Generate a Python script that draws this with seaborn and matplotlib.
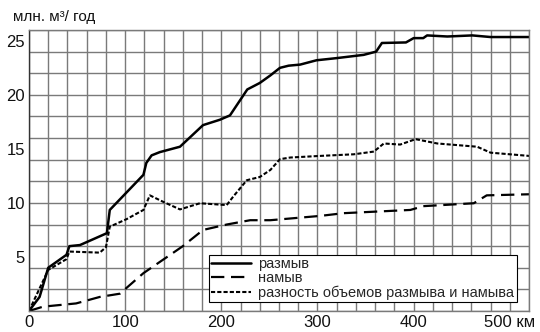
import matplotlib
matplotlib.use("Agg")
import matplotlib.pyplot as plt
import seaborn as sns
import numpy as np
import pandas as pd
from matplotlib.ticker import FixedLocator, FuncFormatter, NullFormatter

sns.set_theme(style="white")
plt.rcParams['font.family'] = ['Liberation Sans', 'DejaVu Sans']

# размыв (erosion)
erosion_km = [0, 11, 20, 39, 42, 53, 81, 84, 119, 122, 127.5, 136, 157, 181, 198.6, 209, 219.5, 227, 240, 251,
              261, 270, 282, 299, 320, 348, 361, 367, 392, 400, 410, 414, 435, 461, 480, 520]
erosion_val = [0, 1.3, 4.0, 5.2, 6.0, 6.1, 7.2, 9.35, 12.6, 13.7, 14.4, 14.7, 15.2, 17.2, 17.7, 18.1, 19.5, 20.5, 21.1, 21.8,
               22.5, 22.7, 22.8, 23.2, 23.4, 23.7, 24.0, 24.8, 24.85, 25.25, 25.25, 25.5, 25.4, 25.5, 25.35, 25.35]

# намыв (deposition)
depos_km = [0, 14.6, 49, 73.6, 94.5, 119, 160, 181, 205.6, 230, 251, 303, 327, 396.6, 410, 462.5, 476, 520]
depos_val = [0, 0.4, 0.7, 1.3, 1.6, 3.5, 6.0, 7.5, 8.0, 8.4, 8.4, 8.8, 9.05, 9.35, 9.7, 9.97, 10.7, 10.8]

# разность (difference)
diff_km = [0, 20, 39, 42, 73.6, 80, 84, 101.5, 119, 125.7, 139.6, 157, 177.8, 205.6, 212.5, 226.5, 240, 251,
           261, 271.6, 302.8, 337.8, 358.6, 369, 386, 402, 424.6, 466, 480, 520]
diff_val = [0, 3.8, 4.8, 5.5, 5.4, 5.9, 7.8, 8.5, 9.35, 10.7, 10.1, 9.4, 9.97, 9.8, 10.6, 12.1, 12.4, 13.05,
            14.05, 14.2, 14.35, 14.5, 14.75, 15.5, 15.4, 15.9, 15.5, 15.2, 14.65, 14.35]

labels = ["размыв", "намыв", "разность объемов размыва и намыва"]
x_label_map = {0: "0", 100: "100", 200: "200", 300: "300", 400: "400", 500: "500 км"}
y_ticks = [5, 10, 15, 20, 25]

fig = plt.figure(figsize=(5.4, 3.32), dpi=100)
ax = fig.add_axes([0.0537, 0.0633, 0.926, 0.8463])

grid_c = "#7a7a7a"

d1 = pd.DataFrame({"km": erosion_km, "v": erosion_val})
d2 = pd.DataFrame({"km": depos_km, "v": depos_val})
d3 = pd.DataFrame({"km": diff_km, "v": diff_val})

sns.lineplot(data=d1, x="km", y="v", ax=ax, color="black", lw=1.8, label=labels[0], sort=False)
sns.lineplot(data=d2, x="km", y="v", ax=ax, color="black", lw=1.6, label=labels[1], sort=False,
             linestyle=(0, (6, 3)))
sns.lineplot(data=d3, x="km", y="v", ax=ax, color="black", lw=1.5, label=labels[2], sort=False,
             linestyle=(0, (2, 1)))

ax.set_xlim(0, 520)
ax.set_ylim(0, 26)
# x: grid every 20 km, labels every 100
ax.xaxis.set_major_locator(FixedLocator(np.arange(0, 521, 20)))
ax.xaxis.set_major_formatter(FuncFormatter(lambda v, p: x_label_map.get(int(round(v)), "")))
# y: grid every 2, labels at 5, 10, ...
ax.yaxis.set_major_locator(FixedLocator(np.arange(0, 27, 2)))
ax.yaxis.set_major_formatter(NullFormatter())
ax.yaxis.remove_overlapping_locs = False
ax.yaxis.set_minor_locator(FixedLocator(y_ticks))
ax.yaxis.set_minor_formatter(FuncFormatter(lambda v, p: f"{int(round(v))}"))
ax.grid(True, which="major", color=grid_c, lw=1.0)
ax.grid(False, which="minor")
ax.set_axisbelow(True)
ax.tick_params(axis="both", which="both", length=0, labelsize=12, colors="#111111", pad=3)
ax.set_xlabel("")
ax.set_ylabel("")
for s in ax.spines.values():
    s.set_color(grid_c)
    s.set_linewidth(1.0)
ax.spines["left"].set_color("#333333")

leg = ax.legend(loc="lower right", bbox_to_anchor=(0.975, 0.032), fontsize=10.5, frameon=True, fancybox=False,
                handlelength=2.75, handletextpad=0.5, borderpad=0.15, labelspacing=0.0,
                borderaxespad=0.0)
leg.get_frame().set_edgecolor("black")
leg.get_frame().set_linewidth(0.8)
leg.get_frame().set_facecolor("white")
leg.get_frame().set_alpha(1)

fig.text(0.024, 0.95, "млн. м³/ год", fontsize=11, color="#111111", va="center", ha="left")

fig.savefig("out.png", dpi=100)
